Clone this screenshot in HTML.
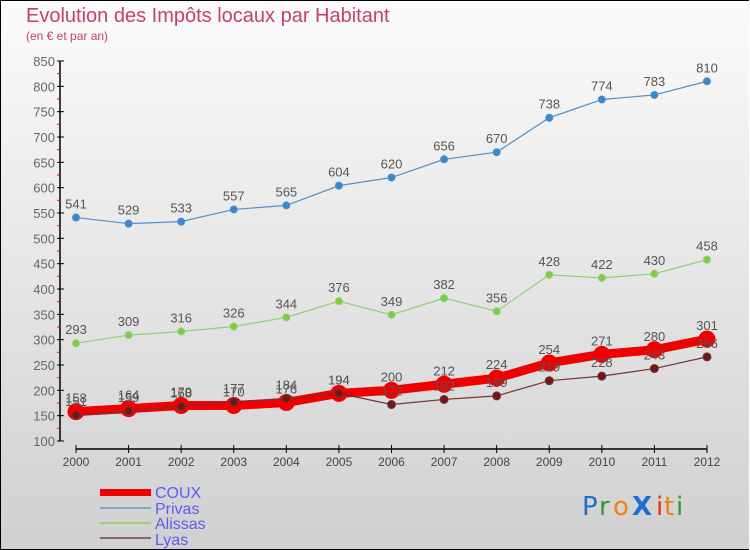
<!DOCTYPE html>
<html><head><meta charset="utf-8"><style>
html,body{margin:0;padding:0}
body{width:750px;height:550px;overflow:hidden;font-family:"Liberation Sans","DejaVu Sans",sans-serif}
#wrap{position:relative;width:748px;height:548px;border:1px solid #000;border-right:none;background:linear-gradient(#fbfbfb,#d0d0d0)}
</style></head><body>
<div id="wrap">
<svg id="chart" width="750" height="550" style="position:absolute;left:-1px;top:-1px">
<text x="26" y="22" font-size="20" fill="#c8406a">Evolution des Impôts locaux par Habitant</text>
<text x="26" y="40" font-size="12" fill="#c8406a">(en € et par an)</text>
<g id="axes"></g><g id="series"></g>
<g>
<rect x="100" y="489" width="51" height="7" fill="#f00000"/>
<text x="155" y="498" font-size="16" fill="#5c5cf0">COUX</text>
<rect x="100" y="507" width="51" height="2" fill="#7aaacc"/>
<text x="155" y="514" font-size="16" fill="#5c5cf0">Privas</text>
<rect x="100" y="522" width="51" height="2" fill="#9ccc80"/>
<text x="155" y="529" font-size="16" fill="#5c5cf0">Alissas</text>
<rect x="100" y="537" width="51" height="2" fill="#8a6262"/>
<text x="155" y="545" font-size="16" fill="#5c5cf0">Lyas</text>
</g>
<g font-size="26" font-family="'DejaVu Sans',sans-serif">
<text x="582" y="515" fill="#1a70d0">P</text><text x="599" y="515" fill="#2a9a3a">r</text><text x="613" y="515" fill="#f08010">o</text><text x="632" y="515" fill="#1a70d0" font-weight="bold">X</text><text x="656" y="515" fill="#e83010">i</text><text x="664" y="515" fill="#f08010">t</text><text x="676" y="515" fill="#2a9a3a">i</text>
</g>
</svg></div>
<script>
const years=[2000,2001,2002,2003,2004,2005,2006,2007,2008,2009,2010,2011,2012];
const yTicks=[100,150,200,250,300,350,400,450,500,550,600,650,700,750,800,850];
const privas=[541,529,533,557,565,604,620,656,670,738,774,783,810];
const alissas=[293,309,316,326,344,376,349,382,356,428,422,430,458];
const lyas=[151,159,168,177,184,194,172,182,189,219,228,243,266];
const coux=[158,164,170,170,176,194,200,212,224,254,271,280,301];
const NS="http://www.w3.org/2000/svg";
function x(i){return 76+i*(707-76)/(years.length-1);}
function y(v){return 441-(v-100)*(380/750);}
function mk(t,a,p){const e=document.createElementNS(NS,t);for(const k in a)e.setAttribute(k,a[k]);p.appendChild(e);return e;}
const ax=document.getElementById('axes');
const ya=mk('line',{x1:60,y1:y(850),x2:60,y2:y(100),stroke:'#000','stroke-width':1.5},ax);


yTicks.forEach(v=>{
 mk('line',{x1:57,y1:y(v),x2:64,y2:y(v),stroke:'#000'},ax);
 if(v<850)mk('line',{x1:57,y1:y(v+25),x2:60,y2:y(v+25),stroke:'#f00'},ax);
 const t=mk('text',{x:55,y:y(v)+5,'font-size':13,fill:'#666','text-anchor':'end'},ax);t.textContent=v;
 
 
});
const xa=mk('line',{x1:76,y1:449,x2:707,y2:449,stroke:'#000','stroke-width':1.5},ax);


years.forEach((yr,i)=>{
 mk('line',{x1:x(i),y1:445,x2:x(i),y2:453,stroke:'#000'},ax);
 const t=mk('text',{x:x(i),y:466,'font-size':12,fill:'#444','text-anchor':'middle'},ax);t.textContent=yr;
 
 
});
const sg=document.getElementById('series');
function series(data,name,col,w,r,dot,lbl){
 const g=mk('g',{},sg);
 
 
 mk('polyline',{points:data.map((v,i)=>x(i)+','+y(v)).join(' '),fill:'none',stroke:col,'stroke-width':w,'stroke-linejoin':'round'},g);
 data.forEach((v,i)=>{
  const c=mk('circle',{cx:x(i),cy:y(v),r:r,fill:dot,stroke:col,'stroke-width':1},g);
  
  
  if(lbl){const t=mk('text',{x:x(i),y:y(v)-9,'font-size':13,fill:'#555','text-anchor':'middle'},g);t.textContent=v;}
 });
}
series(privas,'privas','#5090c8',1.2,3.5,'#3a88cc',true);
series(alissas,'alissas','#90d070',1.2,3.5,'#7ccc48',true);
series(coux,'coux','#f00000',9,8,'#f00000',true);
series(lyas,'lyas','#7a3030',1.2,4,'#6a1a1a',true);
</script>
</body></html>
